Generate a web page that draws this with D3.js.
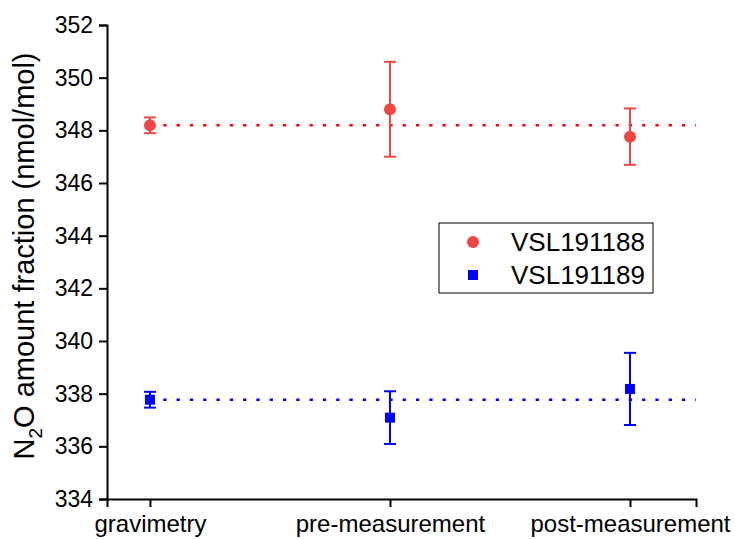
<!DOCTYPE html>
<html>
<head>
<meta charset="utf-8">
<script src="https://cdn.jsdelivr.net/npm/d3@7"></script>
<style>
  body { margin: 0; background: #fff; }
  text { font-family: "Liberation Sans", Arial, sans-serif; }
</style>
</head>
<body>
<script>
const categories = ["gravimetry", "pre-measurement", "post-measurement"];
const seriesNames = ["VSL191188", "VSL191189"];
const values188 = [348.19, 348.80, 347.76];
const errors188 = [0.30, 1.80, 1.07];
const values189 = [337.77, 337.09, 338.18];
const errors189 = [0.30, 1.00, 1.37];
const yTicks = [334, 336, 338, 340, 342, 344, 346, 348, 350, 352];

const w = 735, h = 539;
const plotLeft = 107, plotRight = 696, plotTop = 25, plotBottom = 499;

const svg = d3.select("body").append("svg")
  .attr("width", w)
  .attr("height", h);

const xScale = d3.scaleLinear()
  .domain([-0.179, 2.275])
  .range([plotLeft, plotRight]);

const yScale = d3.scaleLinear()
  .domain([334, 352])
  .range([plotBottom, plotTop]);

// axes
const xAxis = d3.axisBottom(xScale)
  .tickValues([0, 1, 2])
  .tickFormat(i => categories[i])
  .tickSizeOuter(0)
  .tickSize(8)
  .tickPadding(8);

const yAxis = d3.axisLeft(yScale)
  .tickValues(yTicks)
  .tickSizeOuter(0)
  .tickSize(8)
  .tickPadding(6);

const gx = svg.append("g")
  .attr("transform", `translate(0, ${plotBottom})`)
  .call(xAxis);
gx.selectAll("text").style("font-size", "24px").attr("fill", "#000");

const gy = svg.append("g")
  .attr("transform", `translate(${plotLeft}, 0)`)
  .call(yAxis);
gy.selectAll("text").style("font-size", "23px").attr("fill", "#000");

svg.selectAll(".domain, .tick line").attr("stroke", "#000").attr("stroke-width", 2);

// y title
const yTitle = svg.append("text")
  .attr("transform", "rotate(-90)")
  .attr("x", -256)
  .attr("y", 34)
  .attr("text-anchor", "middle")
  .style("font-size", "29px")
  .attr("fill", "#000");
yTitle.append("tspan").text("N");
yTitle.append("tspan").attr("dy", 8).style("font-size", "19px").text("2");
yTitle.append("tspan").attr("dy", -8).text("O amount fraction (nmol/mol)");

// reference dotted lines (gravimetric values)
const series = [
  { name: seriesNames[0], values: values188, errors: errors188, color: "#ff0000", mark: "#f04545", shape: "circle" },
  { name: seriesNames[1], values: values189, errors: errors189, color: "#0000ff", mark: "#0000ff", shape: "square" }
];

series.forEach(s => {
  svg.append("line")
    .attr("x1", xScale(0))
    .attr("x2", plotRight)
    .attr("y1", yScale(s.values[0]))
    .attr("y2", yScale(s.values[0]))
    .attr("stroke", s.color)
    .attr("stroke-width", 2.5)
    .attr("stroke-dasharray", "3.3,10");
});

// error bars and markers
series.forEach(s => {
  const g = svg.append("g");
  const pts = s.values.map((v, i) => ({ i, v, e: s.errors[i] }));
  g.selectAll("line.bar").data(pts).enter().append("line")
    .attr("x1", d => xScale(d.i)).attr("x2", d => xScale(d.i))
    .attr("y1", d => yScale(d.v + d.e)).attr("y2", d => yScale(d.v - d.e))
    .attr("stroke", s.mark).attr("stroke-width", 2);
  [1, -1].forEach(sign => {
    g.selectAll(null).data(pts).enter().append("line")
      .attr("x1", d => xScale(d.i) - 6).attr("x2", d => xScale(d.i) + 6)
      .attr("y1", d => yScale(d.v + sign * d.e)).attr("y2", d => yScale(d.v + sign * d.e))
      .attr("stroke", s.mark).attr("stroke-width", 2);
  });
  if (s.shape === "circle") {
    g.selectAll("circle").data(pts).enter().append("circle")
      .attr("cx", d => xScale(d.i)).attr("cy", d => yScale(d.v))
      .attr("r", 6).attr("fill", s.mark);
  } else {
    g.selectAll("rect").data(pts).enter().append("rect")
      .attr("x", d => xScale(d.i) - 5).attr("y", d => yScale(d.v) - 5)
      .attr("width", 10).attr("height", 10).attr("fill", s.mark);
  }
});

// legend
const legend = svg.append("g").attr("transform", "translate(439, 223)");
legend.append("rect")
  .attr("width", 214).attr("height", 70)
  .attr("fill", "#fff").attr("stroke", "#000").attr("stroke-width", 1);
legend.append("circle").attr("cx", 34).attr("cy", 19).attr("r", 6).attr("fill", series[0].mark);
legend.append("rect").attr("x", 29).attr("y", 47).attr("width", 10).attr("height", 10).attr("fill", series[1].mark);
series.forEach((s, i) => {
  legend.append("text")
    .attr("x", 72)
    .attr("y", 28 + i * 32.5)
    .style("font-size", "26px")
    .attr("fill", "#000")
    .text(s.name);
});
</script>
</body>
</html>
